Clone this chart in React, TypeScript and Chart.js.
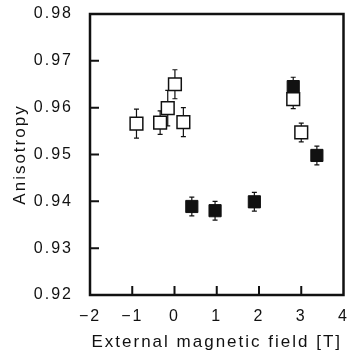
import React, { useEffect, useRef } from "react";
import { Chart, registerables } from "chart.js";

Chart.register(...registerables);

const openX = [-0.9, -0.34, -0.16, 0.01, 0.21, 2.81, 3.0];
const openY = [0.9566, 0.9568, 0.9599, 0.965, 0.9569, 0.9618, 0.9547];
const openErr = [0.0031, 0.0025, 0.0038, 0.0031, 0.0031, 0.002, 0.002];

const filledX = [0.41, 0.96, 1.89, 2.81, 3.37];
const filledY = [0.9389, 0.938, 0.9399, 0.9645, 0.9498];
const filledErr = [0.002, 0.002, 0.002, 0.002, 0.002];

const xTicks = [-2, -1, 0, 1, 2, 3, 4];
const yTicks = [0.92, 0.93, 0.94, 0.95, 0.96, 0.97, 0.98];

const INK = "#111";
const FONT = "'Liberation Sans', Arial, sans-serif";

const errs = [openErr, filledErr];

const spacingPlugin = {
  id: "spacing",
  beforeUpdate(chart: any) {
    chart.ctx.letterSpacing = "2px";
  },
  beforeDraw(chart: any) {
    chart.ctx.letterSpacing = "2px";
  },
};

const framePlugin = {
  id: "frame",
  beforeDatasetsDraw(chart: any) {
    const ctx = chart.ctx;
    const xs = chart.scales.x;
    const ys = chart.scales.y;
    ctx.save();
    ctx.strokeStyle = INK;
    ctx.lineWidth = 1.2;
    chart.data.datasets.forEach((ds: any, di: number) => {
      ds.data.forEach((p: any, i: number) => {
        const e = errs[di][i];
        const px = xs.getPixelForValue(p.x);
        const top = ys.getPixelForValue(p.y + e);
        const bot = ys.getPixelForValue(p.y - e);
        ctx.beginPath();
        ctx.moveTo(px, top);
        ctx.lineTo(px, bot);
        ctx.moveTo(px - 2.5, top);
        ctx.lineTo(px + 2.5, top);
        ctx.moveTo(px - 2.5, bot);
        ctx.lineTo(px + 2.5, bot);
        ctx.stroke();
      });
    });
    ctx.restore();
  },
  afterDraw(chart: any) {
    const ctx = chart.ctx;
    const { left, right, top, bottom } = chart.chartArea;
    const xs = chart.scales.x;
    const ys = chart.scales.y;
    ctx.save();
    ctx.strokeStyle = INK;
    ctx.lineWidth = 2.5;
    ctx.strokeRect(left, top, right - left, bottom - top);
    ctx.lineWidth = 2;
    ctx.beginPath();
    xTicks.forEach((t) => {
      if (t === -2 || t === 4) return;
      const px = xs.getPixelForValue(t);
      ctx.moveTo(px, bottom);
      ctx.lineTo(px, bottom - 9);
    });
    yTicks.forEach((t) => {
      if (t === 0.92 || t === 0.98) return;
      const py = ys.getPixelForValue(t);
      ctx.moveTo(left, py);
      ctx.lineTo(left + 9, py);
    });
    ctx.stroke();
    ctx.restore();
  },
};

export default function App() {
  const ref = useRef<HTMLCanvasElement | null>(null);

  useEffect(() => {
    if (!ref.current) return;
    const chart = new Chart(ref.current, {
      type: "scatter",
      data: {
        datasets: [
          {
            label: "open",
            data: openX.map((x, i) => ({ x, y: openY[i] })),
            pointStyle: "rect",
            pointRadius: 9,
            pointHoverRadius: 9,
            backgroundColor: "#fff",
            borderColor: INK,
            borderWidth: 1.5,
          },
          {
            label: "filled",
            data: filledX.map((x, i) => ({ x, y: filledY[i] })),
            pointStyle: "rect",
            pointRadius: 8.6,
            pointHoverRadius: 8.6,
            backgroundColor: INK,
            borderColor: INK,
            borderWidth: 1,
          },
        ],
      },
      options: {
        animation: false,
        responsive: true,
        maintainAspectRatio: false,
        layout: { padding: { left: 0, right: 5, top: 14, bottom: 0 } },
        plugins: {
          legend: { display: false },
          tooltip: { enabled: false },
        },
        scales: {
          x: {
            type: "linear",
            min: -2,
            max: 4,
            afterBuildTicks: (s: any) => {
              s.ticks = xTicks.map((v) => ({ value: v }));
            },
            afterFit: (s: any) => {
              s.height = 63;
              s.paddingLeft = 0;
              s.paddingRight = 0;
            },
            grid: { display: false },
            border: { display: false },
            ticks: {
              color: INK,
              font: { family: FONT, size: 16 },
              padding: 4,
              maxRotation: 0,
              callback: (v: any) => String(v).replace("-", "\u2212"),
            },
            title: {
              display: true,
              text: "External magnetic field [T]",
              color: INK,
              font: { family: FONT, size: 17 },
              padding: { top: 0, bottom: 5 },
            },
          },
          y: {
            type: "linear",
            min: 0.92,
            max: 0.98,
            afterBuildTicks: (s: any) => {
              s.ticks = yTicks.map((v) => ({ value: v }));
            },
            afterFit: (s: any) => {
              s.width = 90;
              s.paddingTop = 0;
              s.paddingBottom = 0;
            },
            grid: { display: false },
            border: { display: false },
            ticks: {
              color: INK,
              font: { family: FONT, size: 16 },
              padding: 9,
              callback: (v: any) => Number(v).toFixed(2),
            },
            title: {
              display: true,
              text: "Anisotropy",
              color: INK,
              font: { family: FONT, size: 17 },
              padding: { top: 10, bottom: 0 },
            },
          },
        },
      },
      plugins: [spacingPlugin, framePlugin],
    } as any);
    return () => chart.destroy();
  }, []);

  return (
    <div
      style={{
        position: "absolute",
        left: 0,
        top: 0,
        width: 354,
        height: 358,
        background: "#fff",
      }}
    >
      <canvas ref={ref} />
    </div>
  );
}
